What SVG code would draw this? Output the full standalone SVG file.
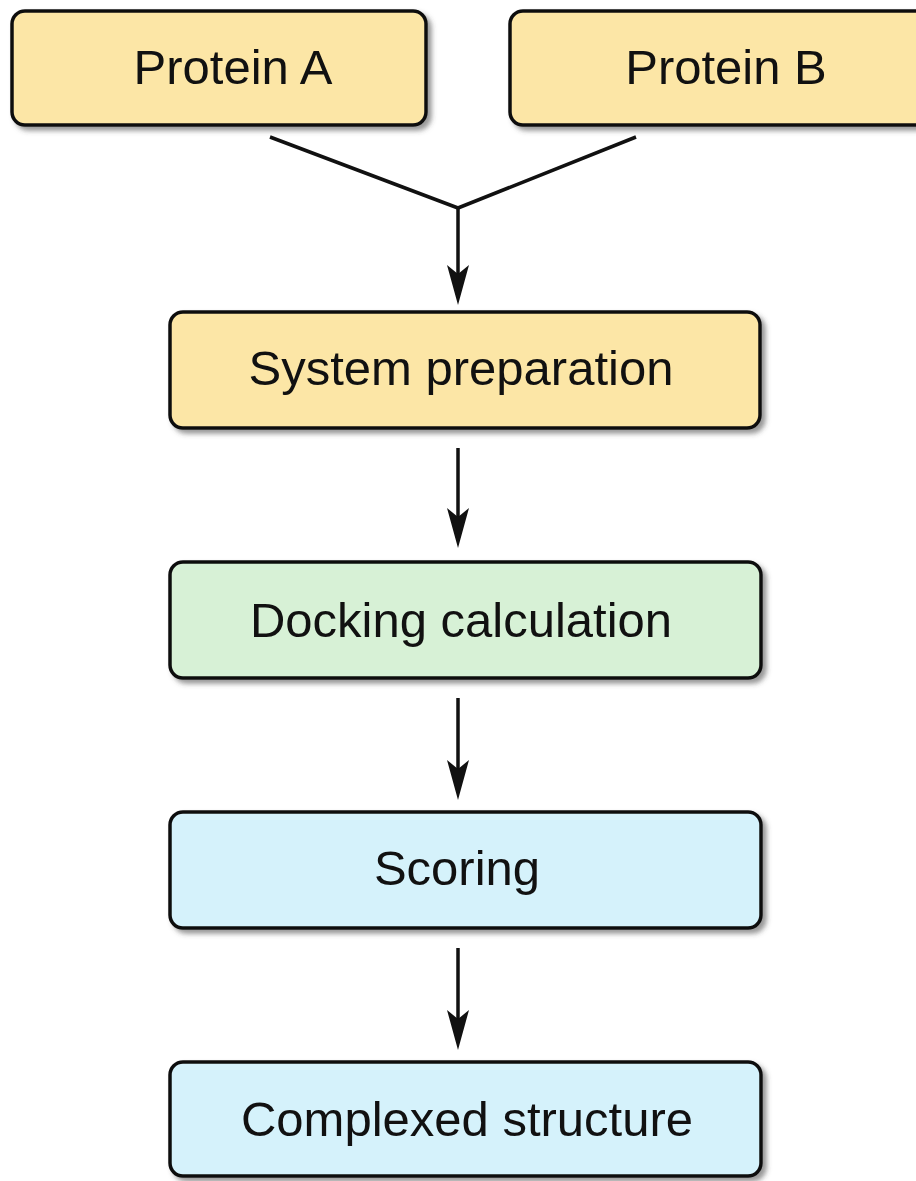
<svg xmlns="http://www.w3.org/2000/svg" width="916" height="1181" viewBox="0 0 916 1181">
  <style>
    .box { stroke: #111; stroke-width: 3.5; filter: url(#shadow); }
    .yellow { fill: #FCE6A6; }
    .green { fill: #D7F1D6; }
    .blue { fill: #D5F2FB; }
    .label { font-family: "Liberation Sans", Arial, sans-serif; font-size: 49px; fill: #111; text-anchor: middle; }
    .wire { stroke: #111; stroke-width: 3.5; fill: none; }
  </style>
  <defs>
    <filter id="shadow" x="-10%" y="-20%" width="125%" height="150%">
      <feDropShadow dx="4" dy="4" stdDeviation="2.5" flood-color="#444" flood-opacity="0.55"/>
    </filter>
    <!-- arrowhead drawn along +x; the tip sits 8px past the line end so the line cap stays hidden -->
    <marker id="arrow" viewBox="0 0 40 22" refX="32" refY="11" markerWidth="40" markerHeight="22" markerUnits="userSpaceOnUse" orient="auto">
      <path d="M0,0 L40,11 L0,22 L9,11 Z" fill="#111"/>
    </marker>
  </defs>
  <rect width="916" height="1181" fill="#fff"/>

  <g id="connectors">
    <polyline class="wire" points="270,137 458,208 636,137"/>
    <line class="wire" x1="458" y1="208" x2="458" y2="297" marker-end="url(#arrow)"/>
    <line class="wire" x1="458" y1="448" x2="458" y2="540" marker-end="url(#arrow)"/>
    <line class="wire" x1="458" y1="698" x2="458" y2="792" marker-end="url(#arrow)"/>
    <line class="wire" x1="458" y1="948" x2="458" y2="1042" marker-end="url(#arrow)"/>
  </g>

  <g id="protein-a">
    <rect class="box yellow" x="12" y="11" width="414" height="114" rx="13"/>
    <text class="label" x="233" y="84">Protein A</text>
  </g>
  <g id="protein-b">
    <rect class="box yellow" x="510" y="11" width="420" height="114" rx="13"/>
    <text class="label" x="726" y="84">Protein B</text>
  </g>
  <g id="system-preparation">
    <rect class="box yellow" x="170" y="312" width="590" height="116" rx="13"/>
    <text class="label" x="461" y="385">System preparation</text>
  </g>
  <g id="docking-calculation">
    <rect class="box green" x="170" y="562" width="591" height="116" rx="13"/>
    <text class="label" x="461" y="637">Docking calculation</text>
  </g>
  <g id="scoring">
    <rect class="box blue" x="170" y="812" width="591" height="116" rx="13"/>
    <text class="label" x="457" y="885">Scoring</text>
  </g>
  <g id="complexed-structure">
    <rect class="box blue" x="170" y="1062" width="591" height="114" rx="13"/>
    <text class="label" x="467" y="1136">Complexed structure</text>
  </g>
</svg>
